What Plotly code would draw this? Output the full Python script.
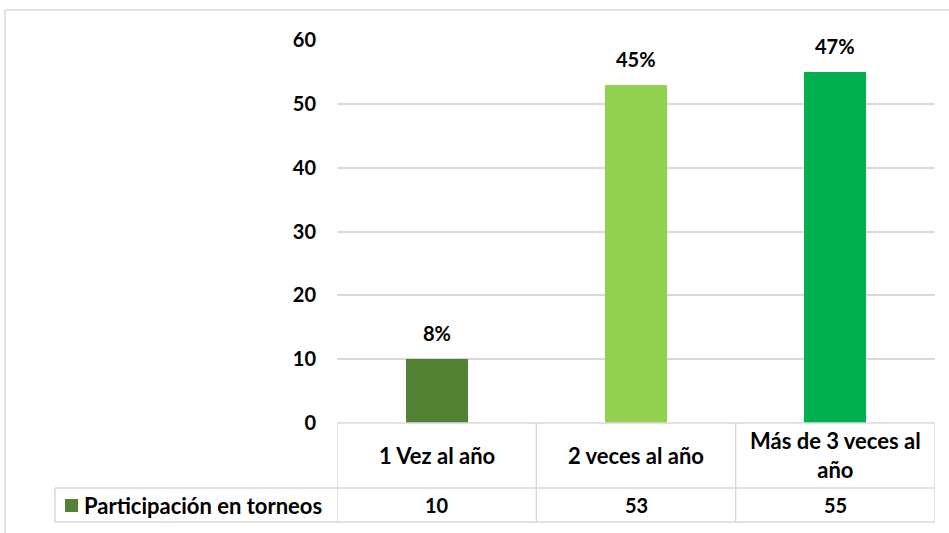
import plotly.graph_objects as go

categories = ["1 Vez al año", "2 veces al año", "Más de 3 veces al<br>año"]
values = [10, 53, 55]
percent_labels = ["8%", "45%", "47%"]
bar_colors = ["#548235", "#92D050", "#00B050"]
series_name = "Participación en torneos"
y_ticks = [0, 10, 20, 30, 40, 50, 60]

FONT = "Lato"
GRID = "#d9d9d9"
TXT = dict(family=FONT, size=22, color="#000", weight="bold")
NUM = dict(family=FONT, size=20, color="#000", weight="bold")

x_pos = list(range(len(categories)))

fig = go.Figure()
fig.add_trace(go.Bar(
    x=x_pos, y=values, width=0.31,
    marker=dict(color=bar_colors, line=dict(width=0)),
    name=series_name, showlegend=False, hoverinfo="skip",
))

# percentage labels above each bar
for xi, v, lab in zip(x_pos, values, percent_labels):
    fig.add_annotation(x=xi, y=v, text=lab, showarrow=False,
                       yanchor="middle", yshift=26, font=NUM)

# data table below the plot area
row1_bottom = -0.1697
row2_bottom = -0.2585
line = dict(color=GRID, width=1.5)
for yb in (0, row1_bottom, row2_bottom):
    fig.add_shape(type="line", xref="x", yref="paper", x0=-0.5, x1=len(categories) - 0.5,
                  y0=yb, y1=yb, line=line)
for yb in (row1_bottom, row2_bottom):
    fig.add_shape(type="line", xref="paper", yref="paper", x0=-0.4716, x1=0,
                  y0=yb, y1=yb, line=line)
fig.add_shape(type="line", xref="paper", yref="paper", x0=-0.4716, x1=-0.4716,
              y0=row1_bottom, y1=row2_bottom, line=line)
for k in range(len(categories) + 1):
    xb = k - 0.5
    fig.add_shape(type="line", xref="x", yref="paper", x0=xb, x1=xb,
                  y0=0, y1=row2_bottom, line=line)

for xi, cat, v in zip(x_pos, categories, values):
    fig.add_annotation(x=xi, y=row1_bottom / 2, xref="x", yref="paper",
                       xanchor="center", yanchor="middle",
                       text=cat, showarrow=False, align="center", font=TXT)
    fig.add_annotation(x=xi, y=(row1_bottom + row2_bottom) / 2, xref="x", yref="paper",
                       xanchor="center", yanchor="middle",
                       text=str(v), showarrow=False, font=NUM)

# legend key inside the table
fig.add_shape(type="rect", xref="paper", yref="paper",
              x0=-0.4548, x1=-0.4331, y0=-0.1984, y1=-0.2324,
              fillcolor=bar_colors[0], line=dict(width=0))
fig.add_annotation(x=-0.4264, y=(row1_bottom + row2_bottom) / 2, xref="paper", yref="paper",
                   xanchor="left", yanchor="middle", text=series_name, showarrow=False,
                   font=TXT)

# outer chart border
fig.add_shape(type="line", xref="paper", yref="paper", x0=-0.555, x1=1.03,
              y0=1.0783, y1=1.0783, line=dict(color=GRID, width=1.5))
fig.add_shape(type="line", xref="paper", yref="paper", x0=-0.555, x1=-0.555,
              y0=1.0783, y1=-0.3, line=dict(color=GRID, width=1.5))

fig.update_layout(
    width=949, height=533,
    margin=dict(l=337, r=14, t=40, b=110),
    plot_bgcolor="white", paper_bgcolor="white",
    bargap=0,
    xaxis=dict(range=[-0.5, len(categories) - 0.5], showticklabels=False,
               showgrid=False, zeroline=False, fixedrange=True),
    yaxis=dict(range=[0, 60], tickvals=y_ticks, showgrid=True, gridcolor=GRID,
               gridwidth=1.5, zeroline=False, ticks="", ticklabelstandoff=20,
               tickfont=NUM),
)

fig.write_html("out.html")
